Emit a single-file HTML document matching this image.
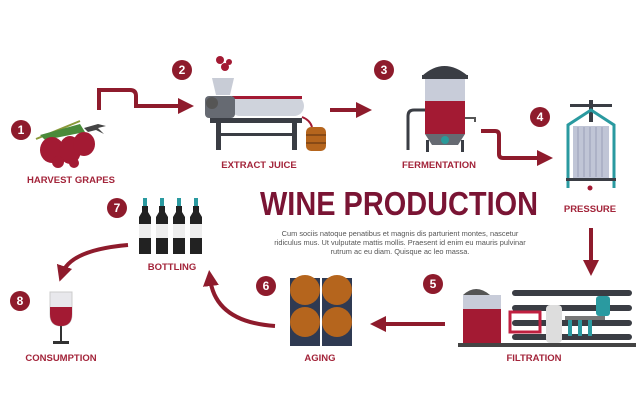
<!DOCTYPE html>
<html><head><meta charset="utf-8"><style>
html,body{margin:0;padding:0;background:#fff;}
svg{display:block}
text{font-family:"Liberation Sans",sans-serif;font-weight:bold;}
</style></head><body>
<svg width="640" height="417" viewBox="0 0 640 417" xmlns="http://www.w3.org/2000/svg">
<defs>
<marker id="ah" markerWidth="4" markerHeight="4" refX="2" refY="2" orient="auto" markerUnits="strokeWidth"><path d="M0,0 L4,2 L0,4 z" fill="#8e1b2c"/></marker>
</defs>
<rect width="640" height="417" fill="#fff"/>
<g fill="none" stroke="#8e1b2c" stroke-width="4">
<path d="M99,110 V90 H130 Q136,90 136,96 V106 H186" marker-end="url(#ah)"/>
<path d="M330,110 H364" marker-end="url(#ah)"/>
<path d="M481,131 H495 Q499,131 499,135 V154 Q499,158 503,158 H545" marker-end="url(#ah)"/>
<path d="M591,228 V268" marker-end="url(#ah)"/>
<path d="M445,324 H378" marker-end="url(#ah)"/>
<path d="M275,326 Q215,322 210,278" marker-end="url(#ah)"/>
<path d="M128,245 Q70,250 62,274" marker-end="url(#ah)"/>
</g>
<g fill="#8e1b2c">
<circle cx="21" cy="130" r="10"/><circle cx="182" cy="70" r="10"/><circle cx="384" cy="70" r="10"/><circle cx="540" cy="117" r="10"/>
<circle cx="433" cy="284" r="10"/><circle cx="266" cy="286" r="10"/><circle cx="117" cy="208" r="10"/><circle cx="20" cy="301" r="10"/>
</g>
<g fill="#fff" font-size="12" text-anchor="middle">
<text x="21" y="134">1</text><text x="182" y="74">2</text><text x="384" y="74">3</text><text x="540" y="121">4</text>
<text x="433" y="288">5</text><text x="266" y="290">6</text><text x="117" y="212">7</text><text x="20" y="305">8</text>
</g>
<g fill="#a3243a" font-size="9.5" text-anchor="middle">
<text x="71" y="183">HARVEST GRAPES</text>
<text x="259" y="168">EXTRACT JUICE</text>
<text x="439" y="168">FERMENTATION</text>
<text x="590" y="212">PRESSURE</text>
<text x="534" y="361">FILTRATION</text>
<text x="320" y="361">AGING</text>
<text x="172" y="270">BOTTLING</text>
<text x="61" y="361">CONSUMPTION</text>
</g>
<text x="399" y="215" fill="#7a1434" font-size="33" text-anchor="middle" textLength="278" lengthAdjust="spacingAndGlyphs">WINE PRODUCTION</text>
<g fill="#555" font-size="7.4" text-anchor="middle">
<text x="400" y="236" style="font-weight:normal">Cum sociis natoque penatibus et magnis dis parturient montes, nascetur</text>
<text x="400" y="245" style="font-weight:normal">ridiculus mus. Ut vulputate mattis mollis. Praesent id enim eu mauris pulvinar</text>
<text x="400" y="254" style="font-weight:normal">rutrum ac eu diam. Quisque ac leo massa.</text>
</g>
<!-- grapes -->
<line x1="36" y1="139" x2="80" y2="121" stroke="#8a9a3a" stroke-width="2"/>
<path d="M40,135 L80,124 L85,132 L45,140z" fill="#4a8a3a"/>
<g fill="#a31a33">
<ellipse cx="52" cy="150" rx="12" ry="13"/><ellipse cx="70" cy="150" rx="11" ry="14"/><ellipse cx="84" cy="144" rx="11" ry="12"/>
<circle cx="58" cy="162" r="6"/><circle cx="74" cy="163" r="5"/>
</g>
<path d="M84,128 L98,124 L106,126 L98,128 L104,134 L96,130 L88,132z" fill="#444"/>
<!-- juice machine -->
<path d="M212,78 L234,78 L230,95 L216,95z" fill="#c8ccd6"/>
<g fill="#a31a33"><circle cx="220" cy="60" r="4"/><circle cx="225" cy="67" r="4"/><circle cx="229" cy="62" r="3"/></g>
<rect x="230" y="96" width="74" height="20" rx="10" fill="#cfd3dc"/>
<rect x="232" y="96" width="70" height="3" fill="#a31a33"/>
<rect x="205" y="96" width="30" height="22" rx="4" fill="#666a72"/>
<circle cx="212" cy="103" r="6" fill="#555"/>
<rect x="210" y="118" width="92" height="5" fill="#3a3d44"/>
<rect x="216" y="123" width="5" height="27" fill="#3a3d44"/><rect x="292" y="123" width="5" height="27" fill="#3a3d44"/>
<rect x="216" y="133" width="81" height="3" fill="#3a3d44"/>
<path d="M302,117 Q310,120 312,127" stroke="#a31a33" stroke-width="2" fill="none"/>
<rect x="306" y="127" width="20" height="24" rx="5" fill="#b5651d"/>
<line x1="306" y1="135" x2="326" y2="135" stroke="#5a3010"/><line x1="306" y1="143" x2="326" y2="143" stroke="#5a3010"/>
<!-- fermentation tank -->
<path d="M422,76 Q444,56 468,76z" fill="#3a3d44"/>
<rect x="422" y="75" width="46" height="4" fill="#3a3d44"/>
<rect x="425" y="79" width="40" height="22" fill="#c8ccd9"/>
<rect x="425" y="101" width="40" height="33" fill="#a31a33"/>
<path d="M425,134 H465 L458,145 H432z" fill="#666a72"/>
<circle cx="445" cy="140" r="4" fill="#2a9a9a"/>
<path d="M425,110 H414 Q408,110 408,116 V150" stroke="#3a3d44" stroke-width="3" fill="none"/>
<rect x="426" y="140" width="3" height="12" fill="#3a3d44"/><rect x="461" y="140" width="3" height="12" fill="#3a3d44"/>
<path d="M465,118 H475 V122" stroke="#555" stroke-width="2" fill="none"/>
<!-- pressure -->
<rect x="570" y="104" width="42" height="3" fill="#3a3d44"/>
<rect x="589" y="100" width="4" height="22" fill="#3a3d44"/>
<path d="M568,188 V125 L591,110 L614,125 V188" stroke="#2a9aa0" stroke-width="3" fill="none"/>
<rect x="573" y="126" width="36" height="52" fill="#c0c5d6"/>
<g stroke="#9aa0b8" stroke-width="1"><line x1="578" y1="127" x2="578" y2="177"/><line x1="584" y1="127" x2="584" y2="177"/><line x1="590" y1="127" x2="590" y2="177"/><line x1="596" y1="127" x2="596" y2="177"/><line x1="602" y1="127" x2="602" y2="177"/></g>
<rect x="566" y="178" width="50" height="3" fill="#3a3d44"/>
<circle cx="590" cy="188" r="2.5" fill="#a31a33"/>
<!-- filtration -->
<path d="M463,295 Q476,283 490,295z" fill="#555"/>
<rect x="463" y="295" width="38" height="14" fill="#c8ccd9"/>
<rect x="463" y="309" width="38" height="34" fill="#a31a33"/>
<rect x="458" y="343" width="178" height="4" fill="#444"/>
<g fill="#3a3d44"><rect x="512" y="290" width="120" height="6" rx="3"/><rect x="512" y="305" width="120" height="6" rx="3"/><rect x="512" y="320" width="120" height="6" rx="3"/><rect x="512" y="334" width="120" height="6" rx="3"/></g>
<path d="M510,312 h30 v20 h-30z" fill="none" stroke="#c02040" stroke-width="3"/>
<rect x="546" y="305" width="16" height="38" rx="4" fill="#ddd"/>
<g fill="#2a9aa0"><rect x="568" y="320" width="4" height="16"/><rect x="578" y="320" width="4" height="16"/><rect x="588" y="320" width="4" height="16"/><rect x="596" y="296" width="14" height="20" rx="3"/></g>
<rect x="565" y="316" width="40" height="4" fill="#777"/>
<!-- barrels -->
<g fill="#2f3a52"><rect x="290" y="278" width="30" height="68"/><rect x="322" y="278" width="30" height="68"/></g>
<g fill="#b5651d"><circle cx="305" cy="290" r="15"/><circle cx="337" cy="290" r="15"/><circle cx="305" cy="322" r="15"/><circle cx="337" cy="322" r="15"/></g>
<!-- bottles -->
<g>
<g id="b"><rect x="143" y="198" width="4" height="8" fill="#2a9aa0"/><path d="M142,206 h6 v6 l3,5 v37 h-12 v-37 l3,-5z" fill="#222"/><rect x="139" y="224" width="12" height="14" fill="#eee"/></g>
<use href="#b" x="17"/><use href="#b" x="34"/><use href="#b" x="51"/>
</g>
<!-- glass -->
<path d="M50,292 h22 v22 q0,12 -11,12 q-11,0 -11,-12z" fill="#e8e8ec" stroke="#ccc"/>
<path d="M50,307 h22 v7 q0,12 -11,12 q-11,0 -11,-12z" fill="#a31a33"/>
<rect x="60" y="326" width="2" height="16" fill="#333"/>
<rect x="53" y="341" width="16" height="3" fill="#333"/>
</svg>
</body></html>
